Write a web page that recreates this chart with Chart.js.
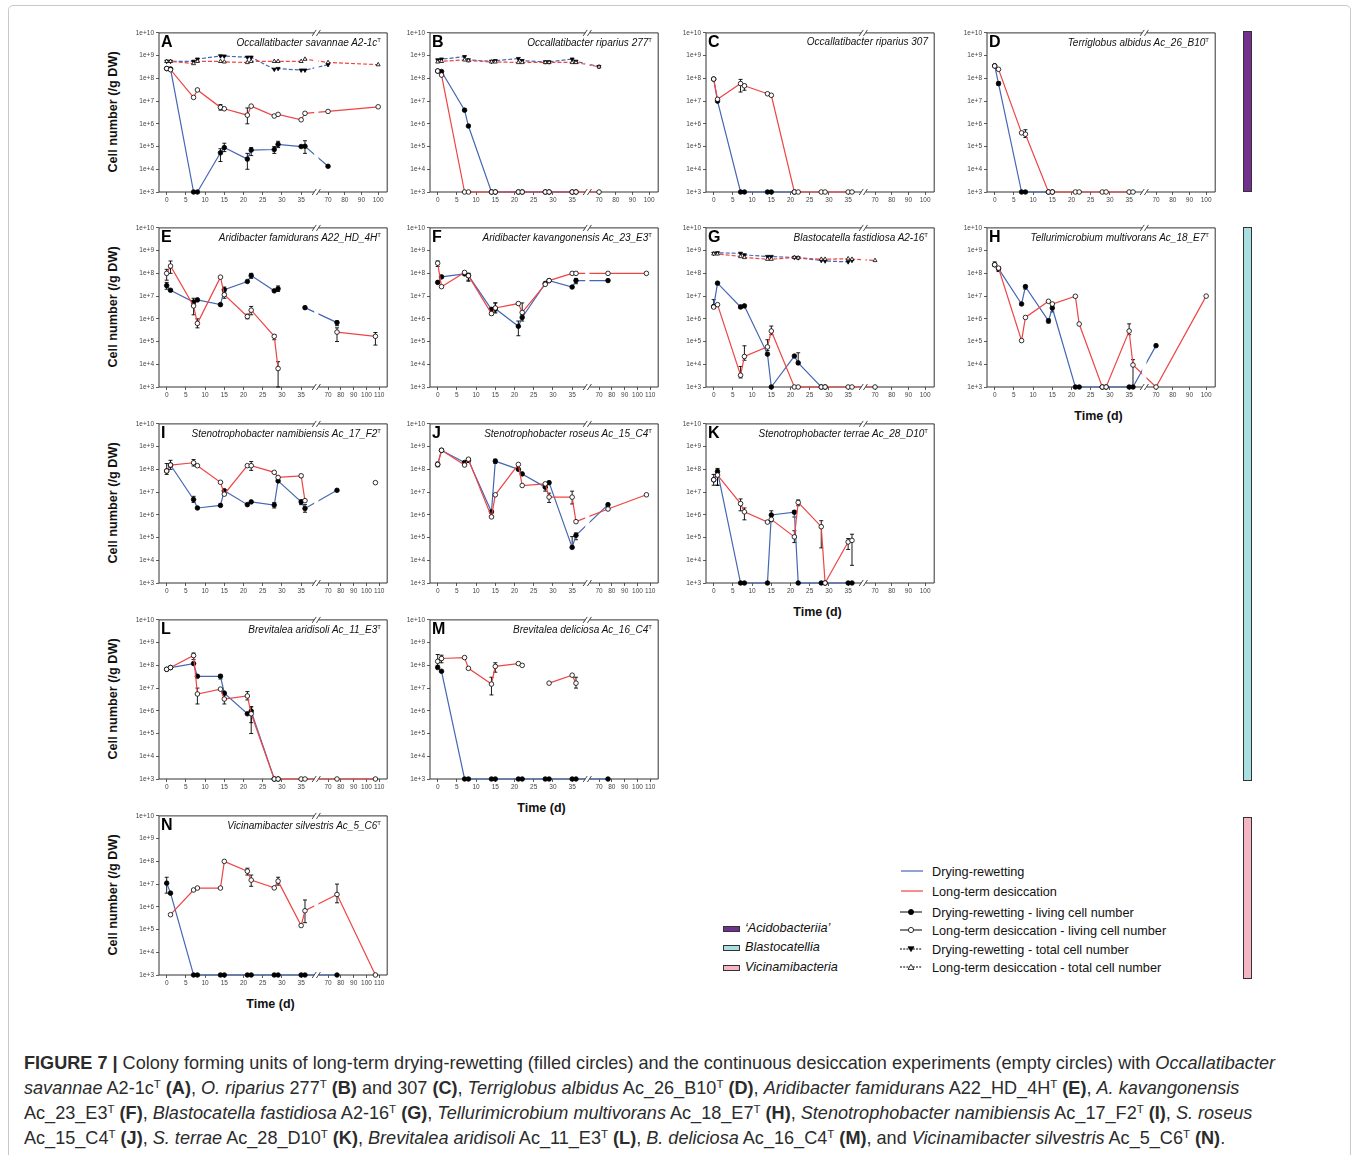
<!DOCTYPE html>
<html>
<head>
<meta charset="utf-8">
<script src="https://cdn.jsdelivr.net/npm/chart.js@4.4.0/dist/chart.umd.min.js"></script>
<style>
body { margin: 0; background: #fff; font-family: "Liberation Sans", Arial, sans-serif; }
#fig { position: relative; width: 1358px; height: 1155px; overflow: hidden; background: #fff; }
.frame { position: absolute; left: 8px; top: 5px; width: 1341px; height: 1170px; border: 1px solid #c9c9c9; border-radius: 5px; }
canvas { position: absolute; }
.letter { position: absolute; font-weight: bold; font-size: 16px; line-height: 1; color: #000; }
.species { position: absolute; font-style: italic; font-size: 10px; line-height: 1; color: #111; white-space: nowrap; }
.species sup { font-size: 6px; vertical-align: 4px; font-style: normal; }
.ytitle { position: absolute; font-weight: bold; font-size: 12.7px; white-space: nowrap; color: #111;
          transform: translate(-50%, -50%) rotate(-90deg); }
.xtitle { position: absolute; font-weight: bold; font-size: 12.5px; white-space: nowrap; color: #111;
          transform: translate(-50%, -50%); }
.classbar { position: absolute; width: 7px; border: 1px solid #333; }
.legend { position: absolute; font-size: 12.7px; color: #111; white-space: nowrap; line-height: 1; }
.legend svg { position: absolute; }
.caption { position: absolute; left: 24px; top: 1051px; font-size: 18.1px; line-height: 25px; color: #2b2b2b; white-space: nowrap; }
.caption i { font-style: italic; }
.caption sup { font-size: 11.5px; vertical-align: 6px; line-height: 0; }
</style>
</head>
<body>
<div id="fig">
  <div class="frame"></div>
</div>
<script>
// ---- data (cells / g DW) ----
const daysA = [0, 1, 7, 8, 14, 15, 21, 22, 28, 29, 35, 36, 70, 100];
const aDrLive = [2.7e8, 2.6e8, 1e3, 1e3, 5.3e4, 9e4, 2.8e4, 7e4, 7.4e4, 1.25e5, 1e5, 1.03e5, 1.35e4, null];
const aLtLive = [2.7e8, 2.4e8, 1.45e7, 3.1e7, 5.3e6, 4.6e6, 2.4e6, 6e6, 2.2e6, 2.6e6, 1.5e6, 2.9e6, 3.5e6, 5.6e6];
const aDrTotal = [5.6e8, 5.6e8, 5.6e8, 7e8, 9.7e8, 9.5e8, 8.5e8, 8.5e8, 2.5e8, 2.7e8, 2.3e8, 2.3e8, 4e8, null];
const aLtTotal = [5.6e8, 5.6e8, 4.5e8, 5.6e8, 5.6e8, 5.3e8, 5e8, 5.6e8, 5.6e8, 5.6e8, 5.6e8, 7e8, 5e8, 4e8];
const aDrErr = [[14, 2.2e4, 8e4], [15, 6e4, 1.4e5], [21, 1e4, 5e4], [22, 4e4, 9e4], [28, 5e4, 1e5], [29, 9e4, 1.7e5], [36, 5e4, 1.8e5]];
const aLtErr = [[14, 4e6, 7e6], [21, 1e6, 5e6]];

const daysB = [0, 1, 7, 8, 14, 15, 21, 22, 28, 29, 35, 36, 70];
const bDrLive = [2.1e8, 2e8, 4e6, 8e5, 1e3, 1e3, 1e3, 1e3, 1e3, 1e3, 1e3, 1e3, null];
const bLtLive = [2.1e8, 1.4e8, 1e3, 1e3, 1e3, 1e3, 1e3, 1e3, 1e3, 1e3, 1e3, 1e3, 1e3];
const bDrTotal = [6.5e8, 7e8, 9e8, 6.5e8, 5.6e8, 6e8, 7.4e8, 6e8, 5.3e8, 5.3e8, 7e8, 5.6e8, 3.3e8];
const bLtTotal = [5.3e8, 5.6e8, 6.5e8, 6e8, 5.3e8, 5.3e8, 5e8, 5e8, 5e8, 5e8, 5e8, 5e8, 3.2e8];

const daysC = [0, 1, 7, 8, 14, 15, 21, 22, 28, 29, 35, 36];
const cDrLive = [9.3e7, 1e7, 1e3, 1e3, 1e3, 1e3, 1e3, null, null, null, null, null];
const cLtLive = [9.3e7, 1.2e7, 5.9e7, 4.7e7, 2.1e7, 1.8e7, 1e3, 1e3, 1e3, 1e3, 1e3, 1e3];
const cLtErr = [[7, 2.5e7, 9e7], [8, 3e7, 5.5e7]];

const daysD = [0, 1, 7, 8, 14, 15, 21, 22, 28, 29, 35, 36];
const dDrLive = [3.6e8, 5.9e7, 1e3, 1e3, 1e3, 1e3, null, null, null, null, null, null];
const dLtLive = [3.5e8, 2.5e8, 4e5, 3.5e5, 1e3, 1e3, 1e3, 1e3, 1e3, 1e3, 1e3, 1e3];
const dDrErr = [[1, 5e7, 7e7]];
const dLtErr = [[8, 2.5e5, 5.5e5]];

const daysE = [0, 1, 7, 8, 14, 15, 21, 22, 28, 29, 35, 36, 77, 107];
const eDrLive = [2.9e7, 1.8e7, 5.5e6, 6.8e6, 4.2e6, 1.9e7, 4.4e7, 8e7, 1.7e7, 2.1e7, null, 3.1e6, 6.8e5, null];
const eLtLive = [1e8, 2.1e8, 3.7e6, 6.3e5, 6.8e7, 1.15e7, 1.26e6, 2.4e6, 1.7e5, 6.5e3, null, null, 2.6e5, 1.7e5];
const eDrErr = [[0, 2e7, 4e7], [7, 4e6, 8e6], [15, 1.3e7, 2.5e7], [22, 6e7, 1e8], [29, 1.6e7, 2.8e7], [77, 5e5, 8e5]];
const eLtErr = [[0, 5e7, 1.5e8], [1, 1e8, 3.5e8], [7, 1.5e6, 5e6], [8, 4e5, 1e6], [15, 8e6, 1.5e7], [21, 1e6, 1.6e6],
                [22, 1.5e6, 3.5e6], [28, 1.2e5, 2e5], [29, 1e3, 1.3e4], [77, 1e5, 4e5], [107, 7e4, 2.5e5]];

const daysF = [0, 1, 7, 8, 14, 15, 21, 22, 28, 29, 35, 36, 77, 107];
const fDrLive = [4e7, 7e7, 9.5e7, 8e7, 2.6e6, 2.8e6, 4.7e5, 1.15e6, 3.6e7, 4.8e7, 2.5e7, 4.8e7, 4.8e7, null];
const fLtLive = [2.8e8, 2.6e7, 1.1e8, 7.9e7, 1.7e6, 3e6, 4.7e6, 1.9e6, 3.3e7, 4.8e7, 1e8, 1e8, 1e8, 1e8];
const fDrErr = [[8, 5e7, 1e8], [15, 2e6, 5e6], [21, 1.8e5, 8e5], [22, 8e5, 1.5e6], [36, 3.5e7, 6e7]];
const fLtErr = [[0, 2e8, 3.5e8], [8, 4.5e7, 1e8], [14, 1.5e6, 2.5e6], [15, 1.8e6, 5e6], [22, 1.2e6, 5e6]];

const daysG = [0, 1, 7, 8, 14, 15, 21, 22, 28, 29, 35, 36, 70];
const gDrLive = [3.5e6, 3.7e7, 3.3e6, 3.7e6, 2.8e4, 1e3, 2.3e4, 1.15e4, 1e3, 1e3, null, null, null];
const gLtLive = [3.3e6, 4.2e6, 3.3e3, 2.2e4, 5.8e4, 2.9e5, 1e3, 1e3, 1e3, 1e3, 1e3, 1e3, 1e3];
const gDrTotal = [7.6e8, 8e8, 7.6e8, 6.5e8, 5.5e8, 5.5e8, 5e8, 4.8e8, 3.7e8, 3.5e8, 3.2e8, 3.7e8, null];
const gLtTotal = [7.2e8, 7.2e8, 5.5e8, 5e8, 4.2e8, 4.2e8, 5e8, 4.8e8, 4.2e8, 4.2e8, 4.4e8, 4.2e8, 3.7e8];
const gDrErr = [[7, 3e6, 4e6], [22, 1e4, 3.2e4]];
const gLtErr = [[0, 3e6, 7e6], [7, 2.5e3, 8e3], [8, 1.5e4, 6.5e4], [14, 4e4, 1.2e5], [15, 2e5, 4.8e5]];

const daysH = [0, 1, 7, 8, 14, 15, 21, 22, 28, 29, 35, 36, 70, 100];
const hDrLive = [2.4e8, 1.6e8, 4.5e6, 2.6e7, 8.1e5, 3e6, 1e3, 1e3, 1e3, 1e3, 1e3, 1e3, 6.6e4, null];
const hLtLive = [2.4e8, 1.7e8, 1.1e5, 1.15e6, 5.9e6, 4.5e6, 9.8e6, 5.9e5, 1e3, 1e3, 2.9e5, 9.3e3, 1e3, 1e7];
const hDrErr = [[8, 2e7, 3e7], [14, 6.5e5, 1e6], [15, 2e6, 4e6]];
const hLtErr = [[0, 2e8, 3.2e8], [1, 1.2e8, 2e8], [35, 2e5, 6e5], [36, 1e3, 1.6e4]];

const daysI = [0, 1, 7, 8, 14, 15, 21, 22, 28, 29, 35, 36, 77, 107];
const iDrLive = [8.5e7, 1.55e8, 4.7e6, 2e6, 2.6e6, 1.15e7, 2.8e6, 3.7e6, 2.7e6, 3.1e7, 3.7e6, 1.9e6, 1.2e7, null];
const iLtLive = [8.5e7, 1.55e8, 1.95e8, 1.45e8, 2.7e7, 8.1e6, 1.45e8, 1.45e8, 7.4e7, 4.4e7, 5.2e7, 4.2e6, null, 2.6e7];
const iDrErr = [[7, 3.5e6, 6.5e6], [28, 2e6, 3.5e6], [35, 2.8e6, 4.5e6], [36, 1.3e6, 2.8e6]];
const iLtErr = [[0, 6e7, 1.8e8], [1, 1e8, 2.5e8], [7, 1.4e8, 2.7e8], [22, 9e7, 2.2e8], [35, 4.5e7, 6e7]];

const daysJ = [0, 1, 7, 8, 14, 15, 21, 22, 28, 29, 35, 36, 77, 107];
const jDrLive = [1.65e8, 6.9e8, 2e8, 2.5e8, 1.35e6, 2.3e8, 1e8, 6.3e7, 1.65e7, 2.6e7, 3.7e4, 1.25e5, 2.8e6, null];
const jLtLive = [1.65e8, 6.9e8, 1.55e8, 2.8e8, 8.1e5, 7.6e6, 1.65e8, 1.95e7, 2.3e7, 6e6, 6e6, 5e5, 1.8e6, 7.6e6];
const jDrErr = [[14, 9e5, 1.6e6], [15, 1.8e8, 2.8e8], [28, 1.1e7, 2e7], [35, 3.5e4, 1.1e5], [36, 8e4, 1.6e5]];
const jLtErr = [[0, 1.3e8, 2.1e8], [8, 2e8, 3e8], [29, 3.5e6, 9e6], [35, 3e6, 1.1e7]];

const daysK = [0, 1, 7, 8, 14, 15, 21, 22, 28, 29, 35, 36];
const kDrLive = [3.5e7, 7.9e7, 1e3, 1e3, 1e3, 9.8e5, 1.3e6, 1e3, 1e3, 1e3, 1e3, 1e3];
const kLtLive = [3.5e7, 5.6e7, 3.1e6, 1.35e6, 4.8e5, 6.3e5, 1.07e5, 3.5e6, 3e5, 1e3, 6.4e4, 7.5e4];
const kDrErr = [[1, 2e7, 1.1e8], [15, 5e5, 1.5e6], [21, 8e5, 1.5e6]];
const kLtErr = [[0, 2e7, 6e7], [1, 2e7, 1e8], [7, 1.5e6, 5e6], [8, 6e5, 2e6], [21, 6e4, 2e5], [22, 2.5e6, 4.5e6],
                [28, 3.5e4, 5.5e5], [35, 3e4, 9e4], [36, 6e3, 1.4e5]];

const daysL = [0, 1, 7, 8, 14, 15, 21, 22, 28, 29, 35, 36, 77, 107];
const lDrLive = [6.7e7, 8e7, 1.2e8, 3.3e7, 3.3e7, 6e6, 7.4e5, 9.7e5, 1e3, 1e3, null, null, null, null];
const lLtLive = [6.7e7, 8e7, 2.7e8, 5.5e6, 9e6, 3.3e6, 4.5e6, 7.4e5, 1e3, 1e3, 1e3, 1e3, 1e3, 1e3];
const lDrErr = [[14, 2.5e7, 4e7], [22, 3e5, 1.5e6]];
const lLtErr = [[7, 1.8e8, 3.5e8], [8, 2e6, 1e7], [15, 2e6, 5e6], [21, 3e6, 7e6], [22, 1e5, 1.5e6]];

const daysM = [0, 1, 7, 8, 14, 15, 21, 22, 28, 29, 35, 36, 77];
const mDrLive = [8e7, 5.5e7, 1e3, 1e3, 1e3, 1e3, 1e3, 1e3, 1e3, 1e3, 1e3, 1e3, 1e3];
const mLtLive = [1.5e8, 2e8, 2.2e8, 7.4e7, 1.5e7, 9e7, 1.2e8, 1e8, null, 1.65e7, 3.7e7, 1.65e7, null];
const mLtErr = [[0, 1e8, 3e8], [1, 1.3e8, 2.8e8], [14, 5e6, 3e7], [15, 5e7, 1.3e8], [36, 1e7, 3e7]];

const daysN = [0, 1, 7, 8, 14, 15, 21, 22, 28, 29, 35, 36, 77, 107];
const nDrLive = [1.1e7, 4e6, 1e3, 1e3, 1e3, 1e3, 1e3, 1e3, 1e3, 1e3, 1e3, 1e3, 1e3, null];
const nLtLive = [null, 4.5e5, 5.5e6, 6.7e6, 6.7e6, 1e8, 3.7e7, 1.5e7, 6.8e6, 1.35e7, 1.5e5, 6.7e5, 3.5e6, 1e3];
const nDrErr = [[0, 4e6, 2e7]];
const nLtErr = [[21, 2.5e7, 5e7], [22, 8e6, 2.5e7], [29, 9e6, 2e7], [36, 2e5, 2e6], [77, 1.5e6, 1e7]];

// tick labels
const xTicksEarly = [0, 5, 10, 15, 20, 25, 30, 35];
const xTicksLate100 = [70, 80, 90, 100];
const xTicksLate110 = [70, 80, 90, 100, 110];
const yTicks = [1e3, 1e4, 1e5, 1e6, 1e7, 1e8, 1e9, 1e10];

const panels = [
  { id: 'A', days: daysA, dr: aDrLive, lt: aLtLive, drT: aDrTotal, ltT: aLtTotal, drE: aDrErr, ltE: aLtErr, maxDay: 100, name: 'Occallatibacter savannae A2-1c', type: true },
  { id: 'B', days: daysB, dr: bDrLive, lt: bLtLive, drT: bDrTotal, ltT: bLtTotal, maxDay: 100, name: 'Occallatibacter riparius 277', type: true },
  { id: 'C', days: daysC, dr: cDrLive, lt: cLtLive, ltE: cLtErr, maxDay: 100, name: 'Occallatibacter riparius 307', type: false },
  { id: 'D', days: daysD, dr: dDrLive, lt: dLtLive, drE: dDrErr, ltE: dLtErr, maxDay: 100, name: 'Terriglobus albidus Ac_26_B10', type: true },
  { id: 'E', days: daysE, dr: eDrLive, lt: eLtLive, drE: eDrErr, ltE: eLtErr, maxDay: 110, name: 'Aridibacter famidurans A22_HD_4H', type: true },
  { id: 'F', days: daysF, dr: fDrLive, lt: fLtLive, drE: fDrErr, ltE: fLtErr, maxDay: 110, name: 'Aridibacter kavangonensis Ac_23_E3', type: true },
  { id: 'G', days: daysG, dr: gDrLive, lt: gLtLive, drT: gDrTotal, ltT: gLtTotal, drE: gDrErr, ltE: gLtErr, maxDay: 100, name: 'Blastocatella fastidiosa A2-16', type: true },
  { id: 'H', days: daysH, dr: hDrLive, lt: hLtLive, drE: hDrErr, ltE: hLtErr, maxDay: 100, name: 'Tellurimicrobium multivorans Ac_18_E7', type: true },
  { id: 'I', days: daysI, dr: iDrLive, lt: iLtLive, drE: iDrErr, ltE: iLtErr, maxDay: 110, name: 'Stenotrophobacter namibiensis Ac_17_F2', type: true },
  { id: 'J', days: daysJ, dr: jDrLive, lt: jLtLive, drE: jDrErr, ltE: jLtErr, maxDay: 110, name: 'Stenotrophobacter roseus Ac_15_C4', type: true },
  { id: 'K', days: daysK, dr: kDrLive, lt: kLtLive, drE: kDrErr, ltE: kLtErr, maxDay: 100, name: 'Stenotrophobacter terrae Ac_28_D10', type: true },
  { id: 'L', days: daysL, dr: lDrLive, lt: lLtLive, drE: lDrErr, ltE: lLtErr, maxDay: 110, name: 'Brevitalea aridisoli Ac_11_E3', type: true },
  { id: 'M', days: daysM, dr: mDrLive, lt: mLtLive, ltE: mLtErr, maxDay: 110, name: 'Brevitalea deliciosa Ac_16_C4', type: true },
  { id: 'N', days: daysN, dr: nDrLive, lt: nLtLive, drE: nDrErr, ltE: nLtErr, maxDay: 110, name: 'Vicinamibacter silvestris Ac_5_C6', type: true }
];

// ---- layout (plot box top-left corners) ----
const BOX_W = 229, BOX_H = 161;
const boxPos = {
  A: [159, 31], B: [430, 31], C: [706, 31], D: [987, 31],
  E: [159, 226], F: [430, 226], G: [706, 226], H: [987, 226],
  I: [159, 422], J: [430, 422], K: [706, 422],
  L: [159, 618], M: [430, 618],
  N: [159, 814]
};
const yTitleFor = ['A', 'E', 'I', 'L', 'N'];
const xTitleFor = ['H', 'K', 'M', 'N'];

const BLUE = '#4467b4';
const RED = '#ef4444';

// broken time axis: days 0-40 at full scale, 70+ compressed
function toPos(day, maxDay) {
  if (day <= 40) return day;
  return 42 + (day - 70) * (maxDay > 100 ? 1 / 3 : 0.435);
}

const panelFrame = {
  id: 'panelFrame',
  beforeDatasetsDraw(chart) {
    const { ctx, chartArea: a, scales: { x, y } } = chart;
    const md = chart.options.plugins.panelFrame.maxDay;
    const g1 = x.getPixelForValue(38.4), g2 = x.getPixelForValue(39.5);
    ctx.save();
    ctx.strokeStyle = '#333';
    ctx.lineWidth = 1;
    ctx.beginPath();
    ctx.moveTo(g1, a.top); ctx.lineTo(a.left, a.top); ctx.lineTo(a.left, a.bottom); ctx.lineTo(g1, a.bottom);
    ctx.moveTo(g2, a.top); ctx.lineTo(a.right, a.top); ctx.lineTo(a.right, a.bottom); ctx.lineTo(g2, a.bottom);
    ctx.stroke();
    // error bars
    ctx.strokeStyle = '#000';
    ctx.lineWidth = 0.9;
    chart.data.datasets.forEach(ds => {
      (ds.errs || []).forEach(([d, lo, hi]) => {
        const px = x.getPixelForValue(toPos(d, md));
        const y1 = y.getPixelForValue(lo), y2 = y.getPixelForValue(hi);
        ctx.beginPath();
        ctx.moveTo(px, y1); ctx.lineTo(px, y2);
        ctx.moveTo(px - 2, y1); ctx.lineTo(px + 2, y1);
        ctx.moveTo(px - 2, y2); ctx.lineTo(px + 2, y2);
        ctx.stroke();
      });
    });
    ctx.restore();
  },
  afterDatasetsDraw(chart) {
    const { ctx, chartArea: a, scales: { x } } = chart;
    const g1 = x.getPixelForValue(38.4), g2 = x.getPixelForValue(39.5);
    ctx.save();
    ctx.fillStyle = '#fff';
    ctx.fillRect(g1, a.top - 3, g2 - g1, a.bottom - a.top + 6);
    ctx.strokeStyle = '#333';
    ctx.lineWidth = 0.9;
    ctx.beginPath();
    [a.top, a.bottom].forEach(yy => {
      [g1, g2].forEach(gx => { ctx.moveTo(gx - 2, yy + 3); ctx.lineTo(gx + 2, yy - 3); });
    });
    ctx.stroke();
    ctx.restore();
  }
};

const fig = document.getElementById('fig');

function addDiv(cls, html, style) {
  const d = document.createElement('div');
  d.className = cls;
  d.innerHTML = html;
  Object.assign(d.style, style);
  fig.appendChild(d);
  return d;
}

function makePanel(p) {
  const [left, top] = boxPos[p.id];
  const cv = document.createElement('canvas');
  cv.width = BOX_W + 39;
  cv.height = BOX_H + 18;
  cv.style.left = (left - 35) + 'px';
  cv.style.top = (top - 4) + 'px';
  fig.appendChild(cv);

  const tickDays = xTicksEarly.concat(p.maxDay > 100 ? xTicksLate110 : xTicksLate100);
  const pts = vals => p.days.map((d, i) => ({ x: toPos(d, p.maxDay), y: vals[i] }));
  const base = { clip: 8, pointRadius: 2.3, pointBorderWidth: 0.8, pointBorderColor: '#000', borderWidth: 1.2, tension: 0 };
  const sets = [];
  if (p.ltT) sets.push({ ...base, data: pts(p.ltT), borderColor: RED, borderDash: [4, 2], pointStyle: 'triangle', pointBackgroundColor: '#fff' });
  if (p.drT) sets.push({ ...base, data: pts(p.drT), borderColor: BLUE, borderDash: [4, 2], pointStyle: 'triangle', pointRotation: 180, pointBackgroundColor: '#000' });
  sets.push({ ...base, data: pts(p.lt), errs: p.ltE, borderColor: RED, pointBackgroundColor: '#fff' });
  sets.push({ ...base, data: pts(p.dr), errs: p.drE, borderColor: BLUE, pointBackgroundColor: '#000' });

  new Chart(cv, {
    type: 'line',
    data: { datasets: sets },
    plugins: [panelFrame],
    options: {
      responsive: false,
      animation: false,
      layout: { padding: { top: 4, right: 4, left: 0, bottom: 0 } },
      plugins: { legend: { display: false }, tooltip: { enabled: false }, panelFrame: { maxDay: p.maxDay } },
      scales: {
        x: {
          type: 'linear', min: -2, max: 57.4,
          afterBuildTicks: s => { s.ticks = tickDays.map(d => ({ value: toPos(d, p.maxDay) })); },
          afterFit: s => { s.height = 14; },
          border: { display: false },
          grid: { drawOnChartArea: false, tickLength: 3, color: '#333', lineWidth: 0.8 },
          ticks: { autoSkip: false, maxRotation: 0, padding: 1, color: '#444', font: { size: 6.5, family: 'Liberation Sans' },
                   callback: (v, i) => tickDays[i] }
        },
        y: {
          type: 'logarithmic', min: 1e3, max: 1e10,
          afterBuildTicks: s => { s.ticks = yTicks.map(v => ({ value: v })); },
          afterFit: s => { s.width = 35; },
          border: { display: false },
          grid: { drawOnChartArea: false, tickLength: 3, color: '#333', lineWidth: 0.8 },
          ticks: { padding: 2, color: '#444', font: { size: 6.5, family: 'Liberation Sans' },
                   callback: v => '1e+' + Math.round(Math.log10(v)) }
        }
      }
    }
  });

  addDiv('letter', p.id, { left: (left + 2) + 'px', top: (top + 3) + 'px' });
  addDiv('species', p.name + (p.type ? '<sup>T</sup>' : ''),
         { right: (1358 - (left + BOX_W - 7)) + 'px', top: (top + 6) + 'px' });
  if (yTitleFor.includes(p.id)) {
    addDiv('ytitle', 'Cell number (/g DW)', { left: '113px', top: (top + BOX_H / 2) + 'px' });
  }
  if (xTitleFor.includes(p.id)) {
    addDiv('xtitle', 'Time (d)', { left: (left + BOX_W / 2 - 3) + 'px', top: (top + BOX_H + 29) + 'px' });
  }
}

panels.forEach(makePanel);

// class colour bars
addDiv('classbar', '', { left: '1243px', top: '31px', height: '159px', background: '#74308f' });
addDiv('classbar', '', { left: '1243px', top: '227px', height: '552px', background: '#aadfe2' });
addDiv('classbar', '', { left: '1243px', top: '817px', height: '160px', background: '#f5b5c3' });

// legends
const lineSvg = (color) => `<svg width="24" height="8" style="left:-32px;top:1px"><line x1="1" y1="4" x2="23" y2="4" stroke="${color}" stroke-width="1.2"/></svg>`;
const markSvg = (kind) => {
  const dash = kind.startsWith('t') ? 'stroke-dasharray="2,1.2"' : '';
  let m;
  if (kind === 'cf') m = '<circle cx="12" cy="4" r="2.6" fill="#000" stroke="#000" stroke-width="0.8"/>';
  if (kind === 'co') m = '<circle cx="12" cy="4" r="2.6" fill="#fff" stroke="#000" stroke-width="0.8"/>';
  if (kind === 'tf') m = '<polygon points="9,1.8 15,1.8 12,6.6" fill="#000" stroke="#000" stroke-width="0.8"/>';
  if (kind === 'to') m = '<polygon points="9,6.4 15,6.4 12,1.4" fill="#fff" stroke="#000" stroke-width="0.8"/>';
  return `<svg width="24" height="8" style="left:-33px;top:1px"><line x1="1" y1="4" x2="23" y2="4" stroke="#000" stroke-width="1" ${dash}/>${m}</svg>`;
};
addDiv('legend', lineSvg(BLUE) + 'Drying-rewetting', { left: '932px', top: '866px' });
addDiv('legend', lineSvg(RED) + 'Long-term desiccation', { left: '932px', top: '886px' });
addDiv('legend', markSvg('cf') + 'Drying-rewetting - living cell number', { left: '932px', top: '907px' });
addDiv('legend', markSvg('co') + 'Long-term desiccation - living cell number', { left: '932px', top: '925px' });
addDiv('legend', markSvg('tf') + 'Drying-rewetting - total cell number', { left: '932px', top: '944px' });
addDiv('legend', markSvg('to') + 'Long-term desiccation - total cell number', { left: '932px', top: '962px' });

const swatch = c => `<span style="position:absolute;left:-22px;top:4px;width:15px;height:4px;border:1px solid #333;background:${c}"></span>`;
addDiv('legend', swatch('#74308f') + '<i>\u2018Acidobacteriia\u2019</i>', { left: '745px', top: '922px' });
addDiv('legend', swatch('#aadfe2') + '<i>Blastocatellia</i>', { left: '745px', top: '941px' });
addDiv('legend', swatch('#f5b5c3') + '<i>Vicinamibacteria</i>', { left: '745px', top: '961px' });

// caption
addDiv('caption',
  '<b>FIGURE 7 |</b> Colony forming units of long-term drying-rewetting (filled circles) and the continuous desiccation experiments (empty circles) with <i>Occallatibacter</i><br>' +
  '<i>savannae</i> A2-1c<sup>T</sup> <b>(A)</b>, <i>O. riparius</i> 277<sup>T</sup> <b>(B)</b> and 307 <b>(C)</b>, <i>Terriglobus albidus</i> Ac_26_B10<sup>T</sup> <b>(D)</b>, <i>Aridibacter famidurans</i> A22_HD_4H<sup>T</sup> <b>(E)</b>, <i>A. kavangonensis</i><br>' +
  'Ac_23_E3<sup>T</sup> <b>(F)</b>, <i>Blastocatella fastidiosa</i> A2-16<sup>T</sup> <b>(G)</b>, <i>Tellurimicrobium multivorans</i> Ac_18_E7<sup>T</sup> <b>(H)</b>, <i>Stenotrophobacter namibiensis</i> Ac_17_F2<sup>T</sup> <b>(I)</b>, <i>S. roseus</i><br>' +
  'Ac_15_C4<sup>T</sup> <b>(J)</b>, <i>S. terrae</i> Ac_28_D10<sup>T</sup> <b>(K)</b>, <i>Brevitalea aridisoli</i> Ac_11_E3<sup>T</sup> <b>(L)</b>, <i>B. deliciosa</i> Ac_16_C4<sup>T</sup> <b>(M)</b>, and <i>Vicinamibacter silvestris</i> Ac_5_C6<sup>T</sup> <b>(N)</b>.',
  {});
</script>
</body>
</html>
